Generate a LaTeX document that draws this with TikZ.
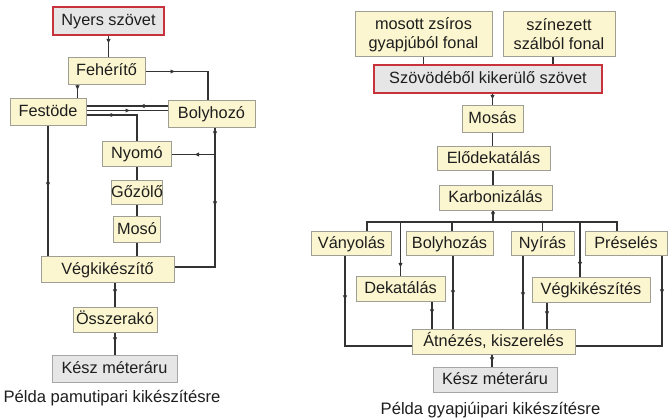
\documentclass[tikz,border=0pt]{standalone}
\usepackage{fontspec}
\setmainfont{Liberation Sans}
\usetikzlibrary{arrows.meta,decorations.markings}
\definecolor{boxfill}{HTML}{FBF6CF}
\definecolor{boxdraw}{HTML}{9E9E94}
\definecolor{grayfill}{HTML}{E6E6E6}
\definecolor{graydraw}{HTML}{A6A6A6}
\definecolor{redline}{HTML}{C8323C}
\definecolor{lineclr}{HTML}{333333}
\definecolor{txt}{HTML}{1E1E1E}
\tikzset{
  bx/.style={draw=boxdraw, fill=boxfill, line width=1pt, inner sep=0pt, text=txt,
    font=\fontsize{16.3}{19}\selectfont, align=center},
  box/.style={bx, text height=12pt, text depth=3.6pt},
  grbox/.style={box, draw=graydraw, fill=grayfill},
  redbox/.style={box, draw=redline, fill=grayfill, line width=1.8pt},
  sz/.style n args={2}{minimum width=#1pt, minimum height=#2pt},
  captxt/.style={text=txt, font=\fontsize{16.6}{19}\selectfont, inner sep=0pt},
  conn/.style={draw=lineclr, line width=1.15pt},
  ar/.style={postaction={decorate,decoration={markings,
    mark=at position #1 with {\arrow{Latex[length=5pt,width=4.5pt,color=lineclr]}}}}}
}
\begin{document}
\begin{tikzpicture}[x=1pt,y=-1pt]
\fill[white] (0,0) rectangle (670,419);
\useasboundingbox (0,0) rectangle (670,419);
% ---------- left diagram ----------
\node[redbox, sz={111}{28}] (nyers) at (108.5,21) {Nyers szövet};
\node[box, sz={77}{27}] (feh) at (106.5,71.5) {Fehérítő};
\node[box, sz={76}{27}] (fest) at (48,112.5) {Festöde};
\node[box, sz={87}{27}] (boly) at (211.5,114.5) {Bolyhozó};
\node[box, sz={69}{25}] (nyomo) at (137,154.5) {Nyomó};
\node[box, sz={51}{24}] (gozolo) at (137,193) {Gőzölő};
\node[box, sz={47}{26}] (moso) at (137,230) {Mosó};
\node[box, sz={133}{26}] (vegk) at (107.5,270) {Végkikészítő};
\node[box, sz={84}{25}] (ossz) at (115,320.5) {Összerakó};
\node[grbox, sz={125}{27}] (kesz1) at (114.5,369.5) {Kész méteráru};
\node[captxt] (cap1) at (112,398) {Példa pamutipari kikészítésre};

\draw[conn, ar=8pt] (nyers.south) -- (nyers.south |- feh.north);
\draw[conn, ar=5pt] ([xshift=10pt]feh.south west) -- ([xshift=10pt]feh.south west |- fest.north);
\draw[conn, ar=30pt] (feh.east) -| ([xshift=-3.5pt]boly.north);
\draw[conn, ar=28pt] ([yshift=8.5pt]boly.west) -- ([yshift=8.5pt]boly.west -| fest.east);
\draw[conn, ar=44pt] ([yshift=2pt]fest.east) -- ([yshift=2pt]fest.east -| boly.west);
\draw[conn, ar=29pt] ([yshift=-2.5pt]fest.east) -| (nyomo.north);
\draw[conn, ar=61pt] (fest.south) -- (fest.south |- vegk.north);
\coordinate (bx) at ([xshift=3.5pt]boly.south);
\draw[conn, ar=8pt, ar=78pt] (bx) |- ([yshift=3pt]vegk.east);
\draw[conn, ar=21pt] (nyomo.east -| bx) -- (nyomo.east);
\draw[conn] (nyomo) -- (gozolo) -- (moso);
\draw[conn] (moso.south) -- (moso.south |- vegk.north);
\draw[conn, ar=11pt] (ossz.north |- vegk.south) -- (ossz.north);
\draw[conn, ar=9pt] (ossz.south) -- (ossz.south |- kesz1.north);

% ---------- right diagram ----------
\node[bx, sz={137}{45}] (mzs) at (423.5,34.5) {mosott zsíros\\gyapjúból fonal};
\node[bx, sz={112}{45}] (szin) at (559,34.5) {színezett\\szálból fonal};
\node[redbox, sz={228}{28}] (szov) at (488,79) {Szövödéből kikerülő szövet};
\node[box, sz={61}{27}] (mosas) at (492.5,119.5) {Mosás};
\node[box, sz={113}{24}] (elod) at (493.5,159) {Elődekatálás};
\node[box, sz={113}{25}] (karb) at (495.5,198.5) {Karbonizálás};
\node[box, sz={80}{24}] (vany) at (351.5,244) {Ványolás};
\node[box, sz={87}{24}] (boly2) at (449.5,244) {Bolyhozás};
\node[box, sz={63}{24}] (nyir) at (542.5,244) {Nyírás};
\node[box, sz={82}{24}] (pres) at (626,244) {Préselés};
\node[box, sz={89}{25}] (deka) at (400.5,289.5) {Dekatálás};
\node[box, sz={118}{25}] (vegk2) at (591,290.5) {Végkikészítés};
\node[box, sz={163}{25}] (atn) at (493.5,342.5) {Átnézés, kiszerelés};
\node[grbox, sz={124}{25}] (kesz2) at (495,380.5) {Kész méteráru};
\node[captxt] (cap2) at (490.5,410) {Példa gyapjúipari kikészítésre};

\coordinate (bus) at (493,222);
\draw[conn] (mzs.south) -- (mzs.south |- szov.north);
\draw[conn] ([xshift=-6pt]szin.south) -- ([xshift=-6pt]szin.south |- szov.north);
\draw[conn, ar=6pt] (mosas.north |- szov.south) -- (mosas.north);
\draw[conn] (mosas.south) -- (mosas.south |- elod.north);
\draw[conn] (elod.south -| bus) -- (bus |- karb.north);
\draw[conn, ar=6pt] (karb.south -| bus) -- (bus);
\draw[conn] ([xshift=15.5pt]vany.north) |- (bus) -| ([xshift=-9pt]pres.north);
\draw[conn] ([xshift=2.5pt]boly2.north) -- ([xshift=2.5pt]boly2.north |- bus);
\draw[conn] (nyir.north) -- (nyir.north |- bus);
\draw[conn, ar=46pt] (deka.north |- bus) -- (deka.north);
\draw[conn, ar=45pt] ([xshift=-11pt]vegk2.north |- bus) -- ([xshift=-11pt]vegk2.north);
\draw[conn, ar=44pt] ([xshift=-6.5pt]vany.south) |- ([yshift=-3.5pt]atn.west);
\draw[conn, ar=38pt] ([xshift=36pt]pres.south) |- ([yshift=-3.5pt]atn.east);
\draw[conn, ar=39pt] ([xshift=3.5pt]boly2.south) -- ([xshift=3.5pt]boly2.south |- atn.north);
\draw[conn, ar=41pt] ([xshift=-19.5pt]nyir.south) -- ([xshift=-19.5pt]nyir.south |- atn.north);
\draw[conn, ar=12pt] ([xshift=31.5pt]deka.south) -- ([xshift=31.5pt]deka.south |- atn.north);
\draw[conn, ar=13pt] ([xshift=-44pt]vegk2.south) -- ([xshift=-44pt]vegk2.south |- atn.north);
\draw[conn, ar=7pt] ([xshift=-1.5pt]atn.south) -- ([xshift=-1.5pt]atn.south |- kesz2.north);
\end{tikzpicture}
\end{document}
